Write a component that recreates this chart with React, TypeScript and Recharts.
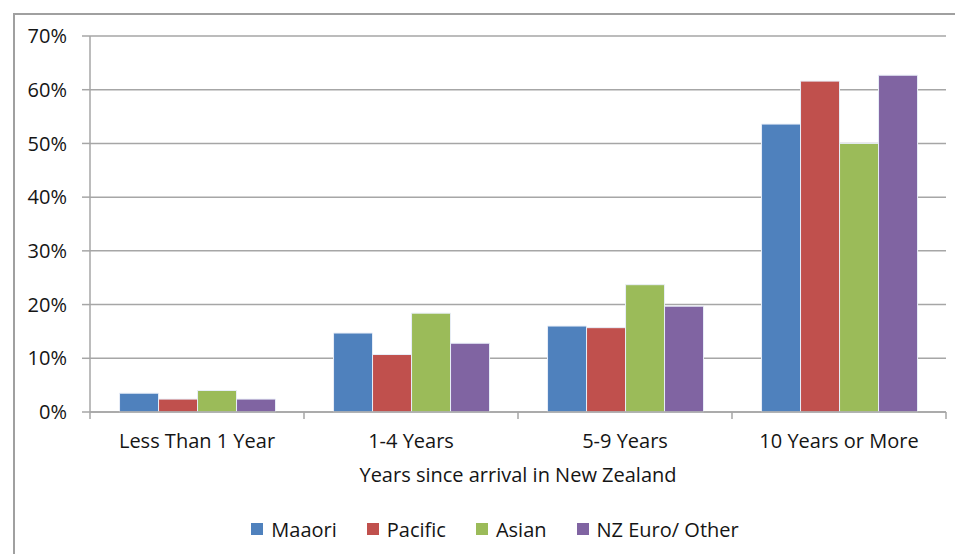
import React from "react";
import {
  BarChart,
  Bar,
  XAxis,
  YAxis,
  CartesianGrid,
  Legend,
  Label,
} from "recharts";

const categories = ["Less Than 1 Year", "1-4 Years", "5-9 Years", "10 Years or More"];
const maaori = [3.5, 14.7, 16.0, 53.6];
const pacific = [2.4, 10.7, 15.7, 61.6];
const asian = [4.0, 18.4, 23.7, 50.0];
const nzEuro = [2.4, 12.8, 19.7, 62.7];
const yTicks = [0, 10, 20, 30, 40, 50, 60, 70];

const series = [
  { key: "maaori", name: "Maaori", color: "#4F81BD" },
  { key: "pacific", name: "Pacific", color: "#C0504D" },
  { key: "asian", name: "Asian", color: "#9BBB59" },
  { key: "nzEuro", name: "NZ Euro/ Other", color: "#8064A2" },
];

const data = categories.map((cat, i) => ({
  cat,
  maaori: maaori[i],
  pacific: pacific[i],
  asian: asian[i],
  nzEuro: nzEuro[i],
}));

const FONT = "'Open Sans', sans-serif";
const TEXT = "#151515";
const AXIS = "#a6a6a6";
const FS = 20;

const CatTick = (props: any) => {
  const { x, y, payload, index } = props;
  const half = payload && payload.offset ? payload.offset : 107;
  return (
    <g>
      <line x1={x - half} x2={x - half} y1={y} y2={y + 7} stroke={AXIS} strokeWidth={1.5} />
      {index === categories.length - 1 && (
        <line x1={x + half} x2={x + half} y1={y} y2={y + 7} stroke={AXIS} strokeWidth={1.5} />
      )}
      <text
        x={x}
        y={y + 36}
        textAnchor="middle"
        fill={TEXT}
        fontSize={FS}
        fontFamily={FONT}
      >
        {payload.value}
      </text>
    </g>
  );
};

const LegendContent = () => (
  <div
    style={{
      display: "flex",
      justifyContent: "center",
      alignItems: "center",
      gap: 30,
      fontFamily: FONT,
      fontSize: FS,
      color: TEXT,
      height: 30,
      marginLeft: 44,
    }}
  >
    {series.map((s) => (
      <div key={s.key} style={{ display: "flex", alignItems: "center" }}>
        <span
          style={{
            display: "inline-block",
            width: 12,
            height: 12,
            background: s.color,
            marginRight: 8,
          }}
        />
        <span>{s.name}</span>
      </div>
    ))}
  </div>
);

export default function App() {
  return (
    <div style={{ position: "absolute", left: 0, top: 0, width: 955, height: 554, background: "#fff" }}>
      <div
        style={{
          position: "absolute",
          left: 13,
          top: 13,
          right: 0,
          bottom: 0,
          borderTop: "2px solid #a0a0a0",
          borderLeft: "2px solid #a0a0a0",
        }}
      />
      <div style={{ position: "absolute", left: 0, top: 0 }}>
        <BarChart
          width={955}
          height={554}
          data={data}
          margin={{ top: 36, right: 9, left: 0, bottom: 0 }}
          barCategoryGap="13.8%"
          barGap={0}
        >
          <CartesianGrid vertical={false} stroke={AXIS} strokeWidth={1.5} />
          <XAxis
            dataKey="cat"
            stroke={AXIS}
            strokeWidth={1.5}
            tickLine={false}
            tickSize={0}
            tickMargin={0}
            height={102}
            tick={<CatTick />}
            interval={0}
          >
            <Label
              value="Years since arrival in New Zealand"
              position="insideBottom"
              offset={32}
              fill={TEXT}
              fontSize={FS}
              fontFamily={FONT}
            />
          </XAxis>
          <YAxis
            width={90}
            domain={[0, 70]}
            ticks={yTicks}
            tickFormatter={(v) => `${v}%`}
            stroke={AXIS}
            strokeWidth={1.5}
            tickSize={8}
            tickMargin={15}
            tick={{ fill: TEXT, fontSize: FS, fontFamily: FONT }}
          />
          <Legend
            verticalAlign="bottom"
            height={40}
            wrapperStyle={{ paddingTop: 0, height: 40 }}
            content={<LegendContent />}
          />
          {series.map((s) => (
            <Bar
              key={s.key}
              dataKey={s.key}
              name={s.name}
              fill={s.color}
              stroke="#e8eef8"
              strokeWidth={1}
              isAnimationActive={false}
            />
          ))}
        </BarChart>
      </div>
    </div>
  );
}
